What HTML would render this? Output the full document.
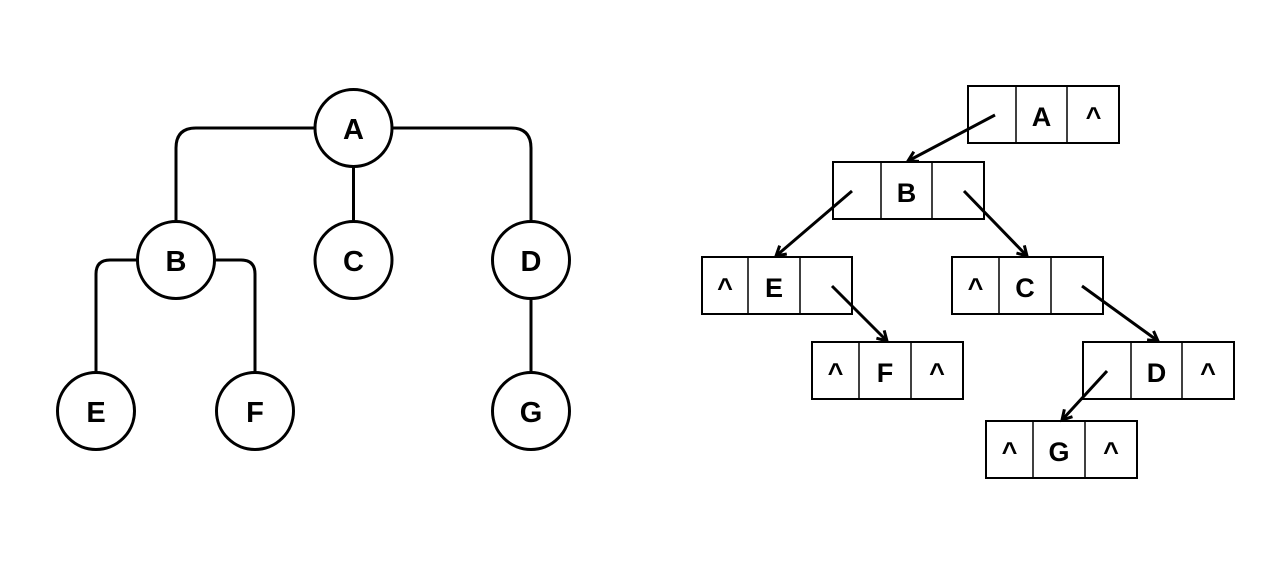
<!DOCTYPE html>
<html>
<head>
<meta charset="utf-8">
<style>
html,body{margin:0;padding:0;background:#fff;}
svg{display:block;}
text{font-family:"Liberation Sans", Arial, sans-serif;fill:#000;}
.big{font-size:29px;font-weight:bold;}
.bl{font-size:27px;font-weight:bold;}
.car{font-size:27px;font-weight:bold;}
</style>
</head>
<body>
<svg width="1265" height="563" viewBox="0 0 1265 563" xmlns="http://www.w3.org/2000/svg">
<defs>
<marker id="ar" markerUnits="userSpaceOnUse" markerWidth="16" markerHeight="16" refX="12" refY="7" orient="auto">
<path d="M2.5,1.5 L12,7 L2.5,12.5" fill="none" stroke="#000" stroke-width="3" stroke-linecap="butt"/>
</marker>
</defs>
<rect width="1265" height="563" fill="#fff"/>

<!-- Left tree connectors -->
<g fill="none" stroke="#000" stroke-width="3">
<path d="M315,128 H196 Q176,128 176,148 V221.5"/>
<path d="M392,128 H511 Q531,128 531,148 V221.5"/>
<path d="M353.5,166.5 V221.5"/>
<path d="M137.5,260 H110 Q96,260 96,274 V372.5"/>
<path d="M214.5,260 H241 Q255,260 255,274 V372.5"/>
<path d="M531,298.5 V372.5"/>
</g>
<!-- Circles -->
<g fill="#fff" stroke="#000" stroke-width="3">
<circle cx="353.5" cy="128" r="38.5"/>
<circle cx="176" cy="260" r="38.5"/>
<circle cx="353.5" cy="260" r="38.5"/>
<circle cx="531" cy="260" r="38.5"/>
<circle cx="96" cy="411" r="38.5"/>
<circle cx="255" cy="411" r="38.5"/>
<circle cx="531" cy="411" r="38.5"/>
</g>
<g class="big" text-anchor="middle">
<text x="353.5" y="139">A</text>
<text x="176" y="271">B</text>
<text x="353.5" y="271">C</text>
<text x="531" y="271">D</text>
<text x="96" y="422">E</text>
<text x="255" y="422">F</text>
<text x="531" y="422">G</text>
</g>

<!-- Right: boxes -->
<g fill="#fff" stroke="#000">
<rect x="968" y="86" width="151" height="57" stroke-width="2"/>
<line x1="1016" y1="86" x2="1016" y2="143" stroke-width="1.5"/>
<line x1="1067" y1="86" x2="1067" y2="143" stroke-width="1.5"/>
<rect x="833" y="162" width="151" height="57" stroke-width="2"/>
<line x1="881" y1="162" x2="881" y2="219" stroke-width="1.5"/>
<line x1="932" y1="162" x2="932" y2="219" stroke-width="1.5"/>
<rect x="702" y="257" width="150" height="57" stroke-width="2"/>
<line x1="748" y1="257" x2="748" y2="314" stroke-width="1.5"/>
<line x1="800" y1="257" x2="800" y2="314" stroke-width="1.5"/>
<rect x="952" y="257" width="151" height="57" stroke-width="2"/>
<line x1="999" y1="257" x2="999" y2="314" stroke-width="1.5"/>
<line x1="1051" y1="257" x2="1051" y2="314" stroke-width="1.5"/>
<rect x="812" y="342" width="151" height="57" stroke-width="2"/>
<line x1="859" y1="342" x2="859" y2="399" stroke-width="1.5"/>
<line x1="911" y1="342" x2="911" y2="399" stroke-width="1.5"/>
<rect x="1083" y="342" width="151" height="57" stroke-width="2"/>
<line x1="1131" y1="342" x2="1131" y2="399" stroke-width="1.5"/>
<line x1="1182" y1="342" x2="1182" y2="399" stroke-width="1.5"/>
<rect x="986" y="421" width="151" height="57" stroke-width="2"/>
<line x1="1033" y1="421" x2="1033" y2="478" stroke-width="1.5"/>
<line x1="1085" y1="421" x2="1085" y2="478" stroke-width="1.5"/>
</g>

<g class="bl" text-anchor="middle">
<text x="1041.5" y="126">A</text>
<text x="906.5" y="202">B</text>
<text x="774" y="297">E</text>
<text x="1025" y="297">C</text>
<text x="885" y="382">F</text>
<text x="1156.5" y="382">D</text>
<text x="1059" y="461">G</text>
</g>
<g class="car" text-anchor="middle">
<text x="1093.5" y="126">^</text>
<text x="725" y="297">^</text>
<text x="975.5" y="297">^</text>
<text x="835.5" y="382">^</text>
<text x="937" y="382">^</text>
<text x="1208" y="382">^</text>
<text x="1009.5" y="461">^</text>
<text x="1111" y="461">^</text>
</g>

<!-- Arrows -->
<g fill="none" stroke="#000" stroke-width="3">
<line x1="995" y1="115" x2="908" y2="161" marker-end="url(#ar)"/>
<line x1="852" y1="191" x2="776" y2="256" marker-end="url(#ar)"/>
<line x1="964" y1="191" x2="1027" y2="256" marker-end="url(#ar)"/>
<line x1="832" y1="286" x2="887" y2="341" marker-end="url(#ar)"/>
<line x1="1082" y1="286" x2="1158" y2="341" marker-end="url(#ar)"/>
<line x1="1107" y1="371" x2="1062" y2="420" marker-end="url(#ar)"/>
</g>
</svg>
</body>
</html>
